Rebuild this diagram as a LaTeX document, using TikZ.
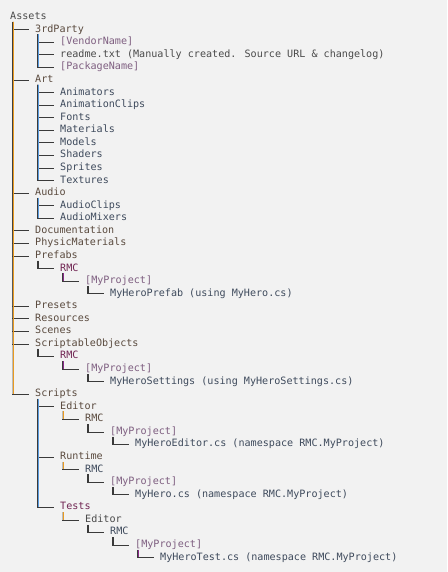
\documentclass[tikz,border=0pt]{standalone}
\usepackage{fontspec}
\newfontfamily\monofam{DejaVu Sans Mono}
\definecolor{bg}{HTML}{F2F2F2}
\definecolor{tdark}{HTML}{4A4A4A}
\definecolor{tlvl}{HTML}{5A4A3E}
\definecolor{tblue}{HTML}{3E4A5C}
\definecolor{tbrk}{HTML}{7E5E80}
\definecolor{trmc}{HTML}{702452}
\definecolor{guideorange}{HTML}{E89A20}
\definecolor{gblue}{HTML}{5A9CE0}
\definecolor{gpurp}{HTML}{8A2A8A}
\definecolor{gdark}{HTML}{3A3A3A}
\tikzset{
  lbl/.style={anchor=base west, inner sep=0pt, text height=7pt, text depth=2pt,
    font=\monofam\fontsize{10.1}{12}\selectfont, text=tblue},
  hline/.style={draw=gdark, line width=0.8pt},
}
% \rowat{name}{level}{index}{color}{text}
\newcommand\rowat[5]{\node[lbl,text=#4] (#1) at ({10+25*#2},{-(19.6+12.57*#3)}) {#5};}
% \treebr{parent}{child}{colour}{colour width}{dark opacity}
\newcommand\treebr[5]{%
  \draw[draw=gdark, draw opacity=#5, line width=0.35pt] ([xshift=2.4pt]#1.south west) -- ([xshift=2.4pt]#1.south west |- #2.west);
  \draw[color=#3, line width=#4] ([xshift=3.5pt]#1.south west) -- ([xshift=3.5pt]#1.south west |- #2.west);
  \draw[hline] ([xshift=2.4pt]#1.south west |- #2.west) -- ([xshift=-6pt]#2.west);
}
\begin{document}
\begin{tikzpicture}[x=1pt,y=1pt]
\fill[bg] (0,0) rectangle (447,-572);
\useasboundingbox (0,0) rectangle (447,-572);
\rowat{a}{0}{0}{tdark}{Assets}
\rowat{tp}{1}{1}{tlvl}{3rdParty}
\rowat{vn}{2}{2}{tbrk}{[VendorName]}
\rowat{rd}{2}{3}{tdark}{readme.txt (Manually created. Source URL \& changelog)}
\rowat{pn}{2}{4}{tbrk}{[PackageName]}
\rowat{art}{1}{5}{tlvl}{Art}
\rowat{anim}{2}{6}{tblue}{Animators}
\rowat{aclip}{2}{7}{tblue}{AnimationClips}
\rowat{fonts}{2}{8}{tblue}{Fonts}
\rowat{mat}{2}{9}{tblue}{Materials}
\rowat{mod}{2}{10}{tblue}{Models}
\rowat{shd}{2}{11}{tblue}{Shaders}
\rowat{spr}{2}{12}{tblue}{Sprites}
\rowat{tex}{2}{13}{tblue}{Textures}
\rowat{aud}{1}{14}{tlvl}{Audio}
\rowat{aucl}{2}{15}{tblue}{AudioClips}
\rowat{aumx}{2}{16}{tblue}{AudioMixers}
\rowat{doc}{1}{17}{tlvl}{Documentation}
\rowat{phys}{1}{18}{tlvl}{PhysicMaterials}
\rowat{pref}{1}{19}{tlvl}{Prefabs}
\rowat{prmc}{2}{20}{trmc}{RMC}
\rowat{prproj}{3}{21}{tbrk}{[MyProject]}
\rowat{prhero}{4}{22}{tblue}{MyHeroPrefab (using MyHero.cs)}
\rowat{pres}{1}{23}{tlvl}{Presets}
\rowat{res}{1}{24}{tlvl}{Resources}
\rowat{scn}{1}{25}{tlvl}{Scenes}
\rowat{so}{1}{26}{tlvl}{ScriptableObjects}
\rowat{sormc}{2}{27}{trmc}{RMC}
\rowat{soproj}{3}{28}{tbrk}{[MyProject]}
\rowat{sohero}{4}{29}{tblue}{MyHeroSettings (using MyHeroSettings.cs)}
\rowat{scr}{1}{30}{tlvl}{Scripts}
\rowat{ed}{2}{31}{tlvl}{Editor}
\rowat{edrmc}{3}{32}{tlvl}{RMC}
\rowat{edproj}{4}{33}{tbrk}{[MyProject]}
\rowat{edhero}{5}{34}{tblue}{MyHeroEditor.cs (namespace RMC.MyProject)}
\rowat{rt}{2}{35}{tlvl}{Runtime}
\rowat{rtrmc}{3}{36}{tblue}{RMC}
\rowat{rtproj}{4}{37}{tbrk}{[MyProject]}
\rowat{rthero}{5}{38}{tblue}{MyHero.cs (namespace RMC.MyProject)}
\rowat{tst}{2}{39}{trmc}{Tests}
\rowat{ted}{3}{40}{tdark}{Editor}
\rowat{trmc}{4}{41}{tblue}{RMC}
\rowat{tproj}{5}{42}{tbrk}{[MyProject]}
\rowat{thero}{6}{43}{tblue}{MyHeroTest.cs (namespace RMC.MyProject)}
% Assets children
\foreach \c in {tp,art,aud,doc,phys,pref,pres,res,scn,so,scr}{\treebr{a}{\c}{guideorange}{1.5pt}{0.3}}
\foreach \c in {vn,rd,pn}{\treebr{tp}{\c}{gblue}{1.2pt}{1}}
\foreach \c in {anim,aclip,fonts,mat,mod,shd,spr,tex}{\treebr{art}{\c}{gblue}{1.2pt}{1}}
\foreach \c in {aucl,aumx}{\treebr{aud}{\c}{gblue}{1.2pt}{1}}
\treebr{pref}{prmc}{gdark}{0.9pt}{1}
\treebr{prmc}{prproj}{gpurp}{1.2pt}{1}
\treebr{prproj}{prhero}{gdark}{0.9pt}{1}
\treebr{so}{sormc}{gdark}{0.9pt}{1}
\treebr{sormc}{soproj}{gpurp}{1.2pt}{1}
\treebr{soproj}{sohero}{gdark}{0.9pt}{1}
\foreach \c in {ed,rt,tst}{\treebr{scr}{\c}{gblue}{1.2pt}{1}}
\treebr{ed}{edrmc}{guideorange}{1.5pt}{0.3}
\treebr{edrmc}{edproj}{gdark}{0.9pt}{1}
\treebr{edproj}{edhero}{gdark}{0.9pt}{1}
\treebr{rt}{rtrmc}{guideorange}{1.5pt}{0.3}
\treebr{rtrmc}{rtproj}{gdark}{0.9pt}{1}
\treebr{rtproj}{rthero}{gdark}{0.9pt}{1}
\treebr{tst}{ted}{guideorange}{1.5pt}{0.3}
\treebr{ted}{trmc}{gdark}{0.9pt}{1}
\treebr{trmc}{tproj}{gdark}{0.9pt}{1}
\treebr{tproj}{thero}{gpurp}{1.2pt}{1}
\end{tikzpicture}
\end{document}
